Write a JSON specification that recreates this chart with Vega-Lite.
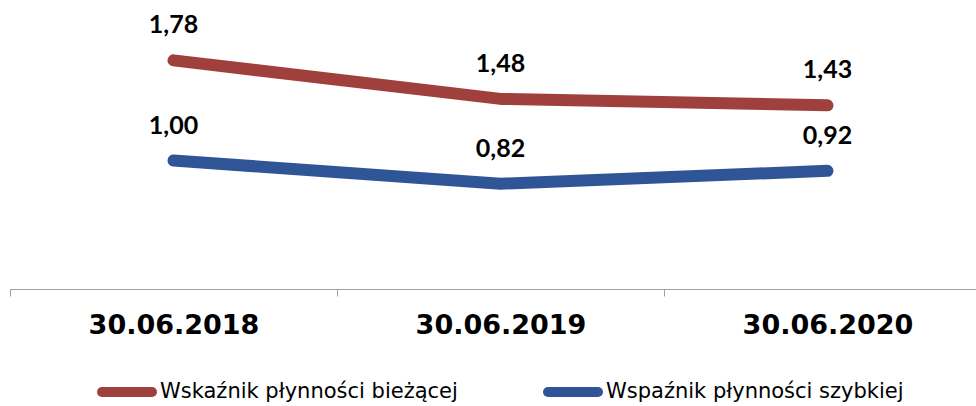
{
  "$schema": "https://vega.github.io/schema/vega-lite/v6.json",
  "autosize": "none",
  "width": 981,
  "height": 289,
  "padding": {"left": 10, "top": 0, "right": 0, "bottom": 117},
  "background": "white",
  "config": {"view": {"stroke": null}},
  "data": {
    "values": [
      {"date": "30.06.2018", "series": "Wskaźnik płynności bieżącej", "value": 1.78, "label": "1,78"},
      {"date": "30.06.2019", "series": "Wskaźnik płynności bieżącej", "value": 1.48, "label": "1,48"},
      {"date": "30.06.2020", "series": "Wskaźnik płynności bieżącej", "value": 1.43, "label": "1,43"},
      {"date": "30.06.2018", "series": "Wspaźnik płynności szybkiej", "value": 1.00, "label": "1,00"},
      {"date": "30.06.2019", "series": "Wspaźnik płynności szybkiej", "value": 0.82, "label": "0,82"},
      {"date": "30.06.2020", "series": "Wspaźnik płynności szybkiej", "value": 0.92, "label": "0,92"}
    ]
  },
  "encoding": {
    "x": {
      "field": "date", "type": "nominal", "bandPosition": 0.5,
      "sort": ["30.06.2018", "30.06.2019", "30.06.2020"],
      "scale": {"type": "band", "paddingInner": 0, "paddingOuter": 0},
      "axis": {
        "title": null, "labelAngle": 0, "tickBand": "extent",
        "domainColor": "#A0A0A0", "tickColor": "#A0A0A0", "tickSize": 7, "domainWidth": 1, "tickWidth": 1,
        "labelFont": "DejaVu Sans", "labelFontWeight": "bold", "labelFontSize": 27, "labelColor": "#000000",
        "labelPadding": 16
      }
    },
    "y": {
      "field": "value", "type": "quantitative",
      "scale": {"domain": [0, 2.25]},
      "axis": null
    }
  },
  "layer": [
    {
      "mark": {"type": "line", "strokeWidth": 12, "strokeCap": "round", "strokeJoin": "round"},
      "encoding": {
        "color": {
          "field": "series", "type": "nominal",
          "scale": {"domain": ["Wskaźnik płynności bieżącej", "Wspaźnik płynności szybkiej"], "range": ["#9F403C", "#2F5597"]},
          "legend": {
            "title": null, "orient": "none", "direction": "horizontal", "legendX": 87, "legendY": 362,
            "symbolType": "stroke", "symbolSize": 2500, "symbolStrokeWidth": 10,
            "labelFont": "DejaVu Sans", "labelFontSize": 21, "labelColor": "#000000", "labelOffset": 3,
            "columnPadding": 70, "labelLimit": 400,
            "encode": {"symbols": {"update": {"strokeCap": {"value": "round"}}}}
          }
        }
      }
    },
    {
      "mark": {"type": "text", "font": "Lato", "fontWeight": "bold", "fontSize": 25, "dy": -27, "baseline": "alphabetic", "color": "#000000"},
      "encoding": {
        "text": {"field": "label", "type": "nominal"}
      }
    }
  ]
}
